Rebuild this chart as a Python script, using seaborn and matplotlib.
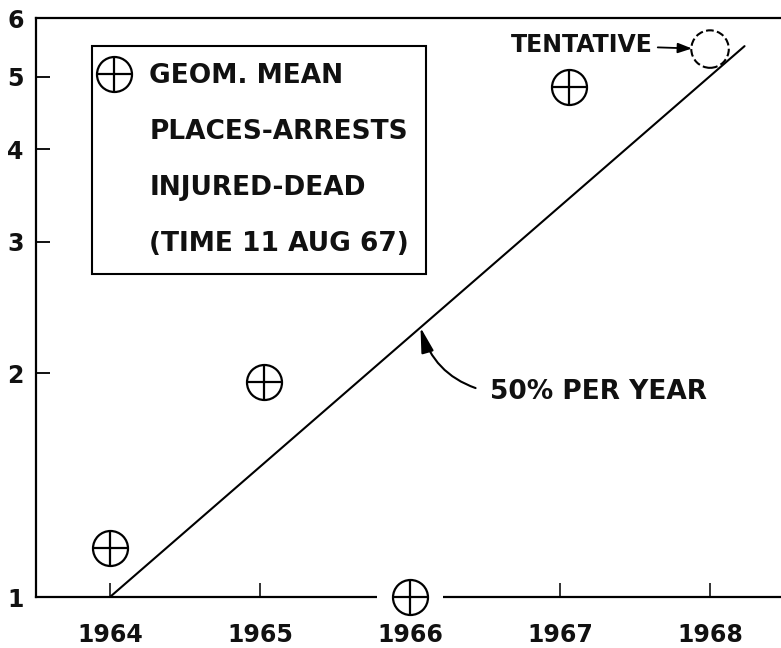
import numpy as np
import matplotlib
matplotlib.use('Agg')
import matplotlib.pyplot as plt
import seaborn as sns
from matplotlib.lines import Line2D
from matplotlib.legend_handler import HandlerTuple
from matplotlib.ticker import NullLocator

# ---- data ----
years = [1964.0, 1965.03, 1966.0, 1967.06]
geo_mean = [1.165, 1.945, 1.0, 4.85]
tentative_year = [1968.0]
tentative_val = [5.45]
trend_years = [1964.0, 1968.23]
trend_vals = [1.0, 5.5]
ytick_vals = [1, 2, 3, 4, 5, 6]
xtick_vals = [1964, 1965, 1966, 1967, 1968]
legend_lines = ["GEOM. MEAN", "PLACES-ARRESTS", "INJURED-DEAD", "(TIME 11 AUG 67)"]
trend_label = "50% PER YEAR"
trend_label_year = 1966.07
tentative_label = "TENTATIVE"

sns.set_style('ticks')
plt.rcParams['font.family'] = ['DejaVu Sans']
plt.rcParams['font.weight'] = 'bold'
plt.rcParams['text.color'] = '#111111'

fig = plt.figure(figsize=(7.81, 6.48), dpi=100)
ax = fig.add_axes([0.0461, 0.0787, 0.9539, 0.8935])
ax.set_yscale('log')

# trend line
sns.lineplot(x=trend_years, y=trend_vals, color='black', lw=1.5, ax=ax)

# gap in the bottom axis behind the 1966 point
ax.plot([years[2]], [geo_mean[2]], marker='_', ms=47.5, mew=6, color='white',
        ls='none', zorder=3, clip_on=False)

# circle-plus markers
msize = 25.2
sns.scatterplot(x=years, y=geo_mean, marker='o', s=msize**2, facecolor='white',
                edgecolor='black', linewidth=1.6, zorder=4, clip_on=False, ax=ax)
sns.scatterplot(x=years, y=geo_mean, marker='+', s=msize**2, color='black',
                linewidth=1.6, zorder=5, clip_on=False, ax=ax)

# tentative dashed circle
sns.scatterplot(x=tentative_year, y=tentative_val, marker='o', s=27**2,
                facecolor='none', edgecolor='black', linewidth=1.5,
                linestyle='--', zorder=4, clip_on=False, ax=ax)

ax.annotate(tentative_label, xy=(tentative_year[0], tentative_val[0]),
            xytext=(-41, 3), textcoords='offset points', ha='right', va='center',
            fontsize=17,
            arrowprops=dict(arrowstyle='-|>,head_length=0.5,head_width=0.18',
                            color='black', lw=1.3, shrinkA=1, shrinkB=13))

# 50% per year annotation
ty = 10 ** np.interp(trend_label_year, trend_years, np.log10(trend_vals))
ax.annotate(trend_label, xy=(trend_label_year, ty), xytext=(1966.53, 1.886),
            textcoords='data', ha='left', va='center', fontsize=19,
            arrowprops=dict(arrowstyle='-|>,head_length=0.8,head_width=0.2',
                            color='black', lw=1.5, shrinkA=8, shrinkB=0,
                            relpos=(0, 0.5),
                            connectionstyle='arc3,rad=-0.3'))

# legend box
h_marker = (Line2D([], [], ls='none', marker='o', ms=msize, mfc='white',
                   mec='black', mew=1.6),
            Line2D([], [], ls='none', marker='+', ms=msize, mec='black', mew=1.6))
blank = Line2D([], [], ls='none')
leg = ax.legend([h_marker, blank, blank, blank], legend_lines,
                handler_map={tuple: HandlerTuple(ndivide=1, pad=0)},
                loc='upper left', bbox_to_anchor=(0.075, 0.9516),
                borderaxespad=0,
                fontsize=19, frameon=True, fancybox=False, edgecolor='black',
                framealpha=1, borderpad=0.65, handlelength=0.4,
                handletextpad=1.12, labelspacing=1.13)
leg.get_frame().set_linewidth(1.5)

ax.set_xlim(1963.507, 1968.473)
ax.set_ylim(1, 6)
ax.set_xticks(xtick_vals)
ax.set_xticklabels([str(v) for v in xtick_vals])
ax.set_yticks(ytick_vals)
ax.set_yticklabels([str(v) for v in ytick_vals])
ax.yaxis.set_minor_locator(NullLocator())
ax.xaxis.set_minor_locator(NullLocator())
ax.set_xlabel('')
ax.set_ylabel('')

ax.tick_params(axis='y', direction='in', length=10, width=1.4, pad=9,
               labelsize=17, colors='#111111')
ax.tick_params(axis='x', direction='in', length=10, width=1.2, pad=19,
               labelsize=17, colors='#111111')
for s in ['left', 'bottom', 'top']:
    ax.spines[s].set_linewidth(1.6)
    ax.spines[s].set_color('black')
ax.spines['right'].set_visible(False)

fig.savefig('out.png', dpi=100)
